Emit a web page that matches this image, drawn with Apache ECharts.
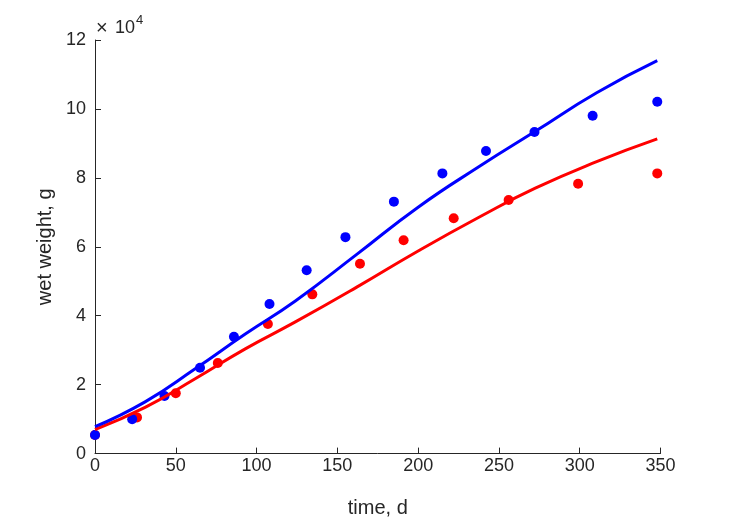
<!DOCTYPE html>
<html>
<head>
<meta charset="utf-8">
<script src="https://cdn.jsdelivr.net/npm/echarts@6/dist/echarts.min.js"></script>
<style>
html,body{margin:0;padding:0;background:#fff;}
#chart{width:729px;height:521px;}
</style>
</head>
<body>
<div id="chart"></div>
<script>
// Observed data (time in days, wet weight in g)
var blueDays   = [0, 23, 43, 65, 86, 108, 131, 155, 185, 215, 242, 272, 308, 348];
var blueWeight = [5400, 10000, 16700, 24900, 33900, 43400, 53200, 62800, 73100, 81300, 87800, 93300, 98000, 102100];
var redDays    = [0, 26, 50, 76, 107, 134.5, 164, 191, 222, 256, 299, 348];
var redWeight  = [5400, 10500, 17500, 26300, 37600, 46200, 55100, 61900, 68300, 73600, 78300, 81300];

// Fitted curves
var curveDays   = [0, 31, 62, 93, 124, 162, 200, 238.5, 272.5, 310.5, 348];
var blueCurve   = [7800, 15000, 24600, 34700, 44300, 57800, 71500, 83500, 93500, 104700, 114000];
var redCurve    = [7000, 13400, 21700, 30400, 38200, 48300, 58800, 68800, 77000, 84700, 91300];

// Axis ticks
var xTicks = {min: 0, max: 350, step: 50};
var yTicks = {min: 0, max: 120000, step: 20000, scale: 10000};

function pairs(xs, ys) { return xs.map(function (x, i) { return [x, ys[i]]; }); }

var axisColor = '#262626';
var font = 'Liberation Sans, Arial, Helvetica, sans-serif';

var chart = echarts.init(document.getElementById('chart'), null, {renderer: 'canvas'});
chart.setOption({
  animation: false,
  backgroundColor: '#ffffff',
  grid: {left: 95, right: 68.5, top: 40, bottom: 67.4, containLabel: false, outerBoundsMode: 'none'},
  xAxis: {
    type: 'value', min: xTicks.min, max: xTicks.max, interval: xTicks.step,
    name: 'time, d', nameLocation: 'middle', nameGap: 45,
    nameTextStyle: {fontFamily: font, fontSize: 20, color: axisColor},
    axisLine: {show: true, lineStyle: {color: axisColor, width: 1}},
    axisTick: {show: true, inside: true, length: 6, lineStyle: {color: axisColor}},
    axisLabel: {fontFamily: font, fontSize: 18, color: axisColor, margin: 3},
    splitLine: {show: false}
  },
  yAxis: {
    type: 'value', min: yTicks.min, max: yTicks.max, interval: yTicks.step,
    name: 'wet weight, g', nameLocation: 'middle', nameGap: 40, nameRotate: 90,
    nameTextStyle: {fontFamily: font, fontSize: 20, color: axisColor},
    axisLine: {show: true, lineStyle: {color: axisColor, width: 1}},
    axisTick: {show: true, inside: true, length: 6, lineStyle: {color: axisColor}},
    axisLabel: {fontFamily: font, fontSize: 18, color: axisColor, margin: 9,
      formatter: function (v) { return String(v / yTicks.scale); }},
    splitLine: {show: false}
  },
  graphic: [
    {type: 'text', left: 96, top: 18, style: {text: '×', fontFamily: font, fontSize: 20, fill: axisColor}},
    {type: 'text', left: 115, top: 19, style: {text: '10', fontFamily: font, fontSize: 18, fill: axisColor}},
    {type: 'text', left: 136, top: 14, style: {text: '4', fontFamily: font, fontSize: 13, fill: axisColor}}
  ],
  series: [
    {type: 'scatter', data: pairs(redDays, redWeight), symbol: 'circle', symbolSize: 10,
      itemStyle: {color: '#ff0000', opacity: 1}, z: 2},
    {type: 'scatter', data: pairs(blueDays, blueWeight), symbol: 'circle', symbolSize: 10,
      itemStyle: {color: '#0000ff', opacity: 1}, z: 3},
    {type: 'line', data: pairs(curveDays, redCurve), smooth: true, showSymbol: false,
      lineStyle: {color: '#ff0000', width: 3}, z: 4},
    {type: 'line', data: pairs(curveDays, blueCurve), smooth: true, showSymbol: false,
      lineStyle: {color: '#0000ff', width: 3}, z: 5}
  ]
});
</script>
</body>
</html>
